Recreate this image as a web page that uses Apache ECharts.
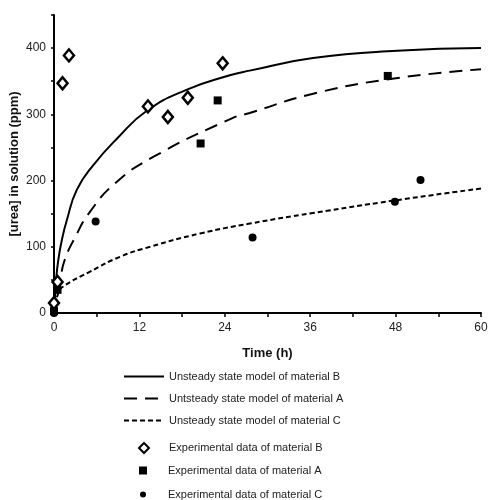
<!DOCTYPE html>
<html>
<head>
<meta charset="utf-8">
<script src="https://cdn.jsdelivr.net/npm/echarts@6/dist/echarts.min.js"></script>
<style>
  html, body { margin: 0; padding: 0; background: #fff; }
  #chart { width: 488px; height: 500px; }
</style>
</head>
<body>
<div id="chart"></div>
<script>
// model curves (time h, urea ppm)
const modelB_x = [0, 0.3, 0.6, 1.1, 1.8, 3.2, 5.5, 9, 13, 18.6, 24.7, 27.5, 36.4, 48.2, 60];
const modelB_y = [0, 50, 80, 110, 140, 186, 223, 265, 305, 337, 359, 366, 385, 396, 400];
const modelA_x = [0, 0.4, 0.85, 1.5, 3, 5, 8.6, 14, 25, 27.5, 36, 47, 60];
const modelA_y = [0, 30, 50, 80, 115, 152, 196, 236, 294, 302, 330, 353, 368];
const modelC_x = [0, 0.6, 1.3, 5, 9.3, 13.5, 20.5, 27.5, 36.4, 47.9, 60];
const modelC_y = [0, 30, 40, 62, 85, 100, 120, 135, 151, 170, 188];

// experimental points
const expB_x = [0, 0.5, 1.2, 2.1, 13.2, 16, 18.8, 23.7];
const expB_y = [15, 47, 347, 389, 312, 296, 325, 377];
const expA_x = [0, 0.5, 20.6, 23, 46.9];
const expA_y = [3, 35, 256, 321, 358];
const expC_x = [0, 5.85, 27.9, 47.9, 51.5];
const expC_y = [0, 138, 114, 168, 201];

const names = [
    'Unsteady state model of material B',
    'Untsteady state model of material A',
    'Unsteady state model of material C',
    'Experimental data of material B',
    'Experimental data of material A',
    'Experimental data of material C'
];

function pairs(xs, ys) {
    return xs.map((x, i) => [x, ys[i]]);
}

const font = 'Liberation Sans, Arial, sans-serif';
const legendText = { fontFamily: font, fontSize: 11, color: '#222' };
const myChart = echarts.init(document.getElementById('chart'), null, { renderer: 'canvas' });

// 散点图例: 每个单独放, 图标大小不同, 文字对齐到 x=168
function scatterLegend(name, size, centerY) {
    const left = 143 - size / 2;
    return {
        orient: 'vertical',
        left: left,
        top: centerY - size / 2,
        padding: 0,
        itemWidth: size,
        itemHeight: size,
        textStyle: Object.assign({ padding: [0, 0, 0, 168 - (left + size + 5)] }, legendText),
        data: [name]
    };
}

let option = {
    animation: false,
    backgroundColor: '#fff',
    grid: { left: 54, right: 7, top: 15, bottom: 187, containLabel: false, outerBoundsMode: 'none' },
    legend: [
        {
            orient: 'vertical',
            left: 123,
            top: 371,
            padding: 0,
            itemWidth: 40,
            itemHeight: 12,
            itemGap: 11,
            textStyle: legendText,
            data: names.slice(0, 3).map(n => ({
                name: n,
                itemStyle: { color: 'rgba(0,0,0,0)', borderWidth: 0 }
            }))
        },
        scatterLegend(names[3], 10, 447),
        scatterLegend(names[4], 8, 469),
        scatterLegend(names[5], 6, 492)
    ],
    xAxis: {
        type: 'value',
        min: 0,
        max: 60,
        interval: 6,
        name: 'Time (h)',
        nameLocation: 'middle',
        nameGap: 34,
        nameMoveOverlap: false,
        nameTextStyle: { fontFamily: font, fontSize: 13, fontWeight: 'bold', color: '#111' },
        axisLine: { lineStyle: { color: '#000', width: 2 } },
        axisTick: { length: 4, lineStyle: { color: '#000', width: 1.5 } },
        axisLabel: {
            fontFamily: font, fontSize: 12, color: '#222', margin: 9,
            formatter: v => (v % 12 === 0 ? String(v) : '')
        },
        splitLine: { show: false }
    },
    yAxis: {
        type: 'value',
        min: 0,
        max: 450,
        interval: 50,
        name: '[urea] in solution (ppm)',
        nameLocation: 'middle',
        nameGap: 33,
        nameMoveOverlap: false,
        nameTextStyle: { fontFamily: font, fontSize: 13, fontWeight: 'bold', color: '#111' },
        axisLine: { show: true, lineStyle: { color: '#000', width: 2 } },
        axisTick: { show: true, length: 3, lineStyle: { color: '#000', width: 1.5 } },
        axisLabel: {
            fontFamily: font, fontSize: 12, color: '#222', margin: 8,
            formatter: v => (v % 100 === 0 && v < 450 ? String(v) : '')
        },
        splitLine: { show: false }
    },
    series: [
        {
            name: names[0], type: 'line', smooth: true, showSymbol: false, symbol: 'none',
            data: pairs(modelB_x, modelB_y),
            lineStyle: { color: '#000', width: 2 }, itemStyle: { color: '#000' }
        },
        {
            name: names[1], type: 'line', smooth: true, showSymbol: false, symbol: 'none',
            data: pairs(modelA_x, modelA_y),
            lineStyle: { color: '#000', width: 2, type: [13, 8] }, itemStyle: { color: '#000' }
        },
        {
            name: names[2], type: 'line', smooth: true, showSymbol: false, symbol: 'none',
            data: pairs(modelC_x, modelC_y),
            lineStyle: { color: '#000', width: 2, type: [5, 3] }, itemStyle: { color: '#000' }
        },
        {
            name: names[3], type: 'scatter', symbol: 'diamond', symbolSize: [10, 12], z: 5,
            data: pairs(expB_x, expB_y),
            itemStyle: { color: '#fff', borderColor: '#000', borderWidth: 2.5, opacity: 1 }
        },
        {
            name: names[4], type: 'scatter', symbol: 'rect', symbolSize: 8, z: 5,
            data: pairs(expA_x, expA_y),
            itemStyle: { color: '#000', opacity: 1 }
        },
        {
            name: names[5], type: 'scatter', symbol: 'circle', symbolSize: 8, z: 5,
            data: pairs(expC_x, expC_y),
            itemStyle: { color: '#000', opacity: 1 }
        }
    ]
};
myChart.setOption(option);
</script>
</body>
</html>
